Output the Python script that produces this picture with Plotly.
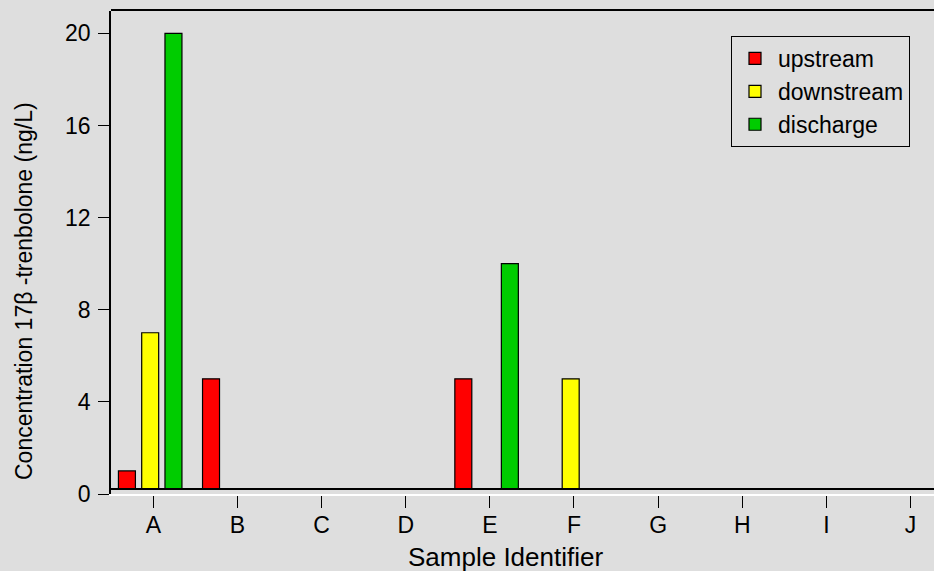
import plotly.graph_objects as go

categories = ["A", "B", "C", "D", "E", "F", "G", "H", "I", "J"]
upstream = [1, 5, 0, 0, 5, 0, 0, 0, 0, 0]
downstream = [7, 0, 0, 0, 0, 5, 0, 0, 0, 0]
discharge = [20, 0, 0, 0, 10, 0, 0, 0, 0, 0]
y_ticks = [0, 4, 8, 12, 16, 20]

series = [("upstream", upstream, "#ff0000"),
          ("downstream", downstream, "#ffff00"),
          ("discharge", discharge, "#00cc00")]

BG = "#dedede"
FONT = "Arial, Liberation Sans, sans-serif"

fig = go.Figure()
for name, vals, col in series:
    fig.add_trace(go.Bar(
        x=categories, y=vals, name=name,
        marker=dict(color=col, line=dict(color="black", width=1.2)),
        xaxis="x", yaxis="y",
    ))

# invisible carrier trace so the tick axes (x2 / y2) are created
fig.add_trace(go.Scatter(
    x=list(range(len(categories))), y=[None] * len(categories),
    xaxis="x2", yaxis="y2", mode="markers", showlegend=False,
    hoverinfo="skip",
))

# pixel geometry
W, H = 934, 571
left, top, bottom_axis, bar_base = 111, 11, 494, 488
ml, mt, mb, mr = left, top, H - bottom_axis, 0
plot_h = bottom_axis - top
ppu = (bottom_axis - 33.3) / 20.0
ymax = (bottom_axis - top) / ppu
ymin_bars = (bottom_axis - bar_base) / ppu

fig.update_layout(
    width=W, height=H,
    margin=dict(l=ml, r=mr, t=mt, b=mb, pad=0),
    paper_bgcolor=BG, plot_bgcolor="rgba(0,0,0,0)",
    font=dict(family=FONT, size=23, color="black"),
    barmode="group", bargap=0.17, bargroupgap=0.27,
    showlegend=True,
    legend=dict(x=(731 - left) / (W - left), y=1 - (36 - top) / plot_h,
                xanchor="left", yanchor="top",
                bgcolor=BG, bordercolor="black", borderwidth=1,
                font=dict(family=FONT, size=23, color="black"),
                traceorder="normal", tracegroupgap=0,
                itemwidth=36, entrywidth=147, entrywidthmode="pixels"),
    xaxis=dict(domain=[0, 1], anchor="y", type="category",
               categoryorder="array", categoryarray=categories,
               range=[-0.466, 9.32], showline=True, linecolor="black",
               linewidth=1.5, mirror=True, showticklabels=False,
               ticks="", showgrid=False, zeroline=False),
    yaxis=dict(domain=[(bottom_axis - bar_base) / plot_h, 1], anchor="x",
               range=[ymin_bars, ymax], showline=False, showticklabels=False,
               ticks="", showgrid=False, zeroline=False),
    xaxis2=dict(domain=[0, 1], anchor="y2", range=[-0.503, 9.28],
                tickmode="array", tickvals=list(range(len(categories))),
                ticktext=categories, ticks="outside", ticklen=12,
                tickcolor="black", tickwidth=1.2, showline=True,
                linecolor="white", linewidth=1.5, showgrid=False,
                zeroline=False, ticklabelstandoff=-2,
                tickfont=dict(family=FONT, size=23, color="black")),
    yaxis2=dict(domain=[0, 1], anchor="x2", range=[0, ymax],
                tickmode="array", tickvals=y_ticks, ticks="outside",
                ticklen=11, tickcolor="black", tickwidth=1.2,
                showline=True, linecolor="black", linewidth=1.5,
                showgrid=False, zeroline=False, ticklabelstandoff=3,
                tickfont=dict(family=FONT, size=23, color="black")),
    annotations=[
        dict(text="Concentration 17β -trenbolone (ng/L)", textangle=-90,
             xref="paper", yref="paper",
             x=(24 - left) / (W - left), y=(bottom_axis - 291) / plot_h,
             xanchor="center", yanchor="middle", showarrow=False,
             font=dict(family=FONT, size=23, color="black")),
        dict(text="Sample Identifier", xref="paper", yref="paper",
             x=(505 - left) / (W - left), y=(bottom_axis - 557) / plot_h,
             xanchor="center", yanchor="middle", showarrow=False,
             font=dict(family=FONT, size=26, color="black")),
    ],
)

fig.write_html("out.html", config={"displayModeBar": False},
               post_script="document.body.style.margin='0';"
                           "document.body.style.background='%s';" % BG)
